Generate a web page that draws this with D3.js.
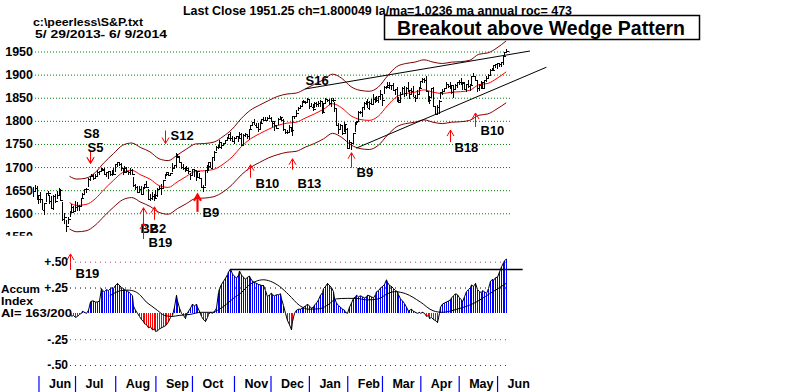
<!DOCTYPE html>
<html><head><meta charset="utf-8">
<script src="https://cdn.jsdelivr.net/npm/d3@7"></script>
<style>
body{margin:0;background:#fff;}
svg{display:block;}
text{font-family:"Liberation Sans",Arial,sans-serif;}
</style>
</head><body>
<svg id="c" width="800" height="392"></svg>
<script>
// ---------- DATA ----------
// daily S&P bars, 5/29/2013 .. 6/9/2014 (260 trading days)
const high=[1656,1661,1658,1640,1646,1630,1623,1644,1648,1640,1637,1640,1641,1649,1654,1652,1624,1601,1586,1593,1606,1620,1615,
1626,1624,1618,1632,1644,1653,1655,1676,1680,1685,1684,1684,1693,1692,1697,1698,1699,1690,1692,1690,1693,1698,
1707,1710,1710,1708,1697,1702,1701,1691,1697,1695,1679,1663,1660,1659,1659,1656,1664,1670,1652,1641,1646,1641,
1651,1655,1659,1664,1673,1684,1690,1689,1688,1709,1705,1730,1729,1725,1711,1707,1701,1703,1697,1687,
1696,1694,1693,1691,1687,1677,1662,1693,1704,1711,1711,1721,1734,1745,1747,1759,1752,1753,1759,1764,1772,1775,1768,
1765,1768,1767,1775,1774,1771,1773,1771,1782,1791,1798,1803,1795,1795,1797,1804,1808,1808,1808,1813,
1808,1800,1800,1792,1806,1811,1808,1803,1782,1781,1792,1786,1811,1810,1823,1829,1834,1842,1844,1843,1849,
1846,1838,1837,1840,1840,1843,1844,1843,1839,1850,1847,1847,1849,1849,1841,1827,1795,1794,1789,1798,1793,
1784,1758,1755,1774,1798,1800,1821,1822,1830,1841,1843,1847,1842,1847,1858,1852,1853,1854,1867,
1857,1876,1876,1883,1883,1878,1882,1868,1874,1852,1862,1873,1875,1874,1884,1866,1871,1875,1855,1866,1874,
1886,1893,1893,1897,1864,1853,1872,1873,1831,1834,1844,1862,1869,1872,1884,1879,1884,1876,1877,1880,1884,
1888,1892,1885,1884,1880,1889,1879,1897,1903,1898,1889,1879,1886,1885,1888,1896,1901,1912,1914,1920,1924,
1925,1925,1928,1941,1950,1955];
const low=[1636,1648,1630,1622,1623,1608,1598,1625,1639,1622,1610,1608,1624,1631,1639,1628,1584,1577,1560,1578,1592,1604,1601,
1607,1606,1605,1615,1634,1643,1646,1659,1672,1679,1674,1676,1681,1684,1690,1692,1684,1680,1676,1682,1682,1685,
1690,1701,1703,1693,1684,1690,1688,1684,1683,1684,1658,1652,1646,1646,1641,1643,1654,1656,1630,1628,1630,1627,
1633,1637,1653,1641,1656,1675,1681,1681,1682,1691,1697,1700,1720,1709,1697,1694,1691,1693,1687,1674,
1682,1680,1670,1677,1675,1655,1647,1660,1689,1692,1698,1700,1714,1735,1740,1744,1740,1746,1752,1757,1762,1758,1755,
1752,1761,1756,1765,1746,1747,1767,1762,1760,1781,1790,1791,1785,1777,1783,1794,1800,1800,1802,1805,
1798,1788,1779,1783,1793,1805,1801,1780,1773,1773,1777,1778,1768,1804,1810,1822,1828,1834,1839,1838,1842,
1827,1830,1823,1828,1831,1830,1831,1815,1820,1839,1842,1835,1832,1841,1820,1790,1772,1782,1771,1778,1772,
1740,1743,1737,1753,1776,1792,1800,1815,1809,1825,1835,1828,1824,1835,1836,1840,1841,1840,1847,
1834,1859,1871,1874,1871,1868,1866,1858,1841,1839,1842,1858,1853,1855,1864,1849,1858,1852,1842,1850,1858,
1873,1884,1883,1863,1841,1837,1852,1832,1814,1815,1816,1848,1856,1864,1872,1873,1870,1860,1850,1870,1873,
1879,1879,1867,1867,1864,1872,1866,1879,1895,1888,1863,1866,1869,1869,1873,1886,1893,1901,1908,1910,1915,
1914,1918,1918,1922,1942,1947];
const close=[1648,1654,1631,1640,1631,1608,1623,1643,1643,1626,1612,1637,1626,1639,1651,1628,1588,1592,1573,1588,1603,1613,1606,
1614,1615,1615,1632,1641,1652,1653,1675,1680,1683,1677,1681,1689,1692,1696,1693,1686,1690,1692,1686,1686,1686,
1706,1710,1707,1698,1690,1698,1691,1689,1694,1685,1661,1656,1646,1653,1642,1656,1664,1656,1630,1634,1638,1633,
1640,1653,1655,1655,1671,1684,1690,1683,1688,1698,1705,1725,1722,1710,1701,1698,1693,1699,1692,1682,
1695,1694,1678,1691,1677,1656,1656,1693,1703,1710,1698,1721,1733,1744,1744,1754,1747,1753,1759,1762,1772,1763,1757,
1762,1767,1763,1771,1748,1770,1771,1768,1782,1790,1798,1792,1787,1782,1795,1804,1802,1802,1807,1806,
1800,1795,1792,1785,1805,1808,1802,1782,1775,1775,1786,1781,1811,1810,1818,1827,1833,1842,1841,1841,1848,
1832,1831,1826,1838,1837,1838,1842,1819,1838,1848,1846,1838,1844,1845,1828,1790,1782,1792,1774,1794,1783,
1742,1755,1752,1773,1797,1800,1819,1819,1829,1838,1840,1828,1839,1836,1847,1845,1845,1854,1859,
1846,1873,1873,1877,1878,1877,1867,1868,1846,1841,1858,1872,1860,1872,1866,1858,1865,1852,1849,1857,1872,
1886,1890,1889,1865,1845,1852,1872,1833,1815,1830,1843,1862,1864,1872,1879,1875,1878,1863,1869,1878,1884,
1883,1881,1885,1868,1879,1875,1878,1896,1897,1888,1870,1878,1885,1872,1888,1893,1900,1911,1910,1920,1924,
1925,1924,1927,1940,1949,1951];

// months: label and index of first trading day
const monthLabels=["Jun","Jul","Aug","Sep","Oct","Nov","Dec","Jan","Feb","Mar","Apr","May","Jun"];
const monthStart=[3,23,45,67,87,110,130,151,172,191,212,233,254];

const priceTicks=[1950,1900,1850,1800,1750,1700,1650,1600,1550];

// 21-day moving average and its bands, read at every 5th day
const bandIdx=[20,24,29,34,39,44,49,54,59,64,69,74,79,84,89,94,99,104,109,114,119,124,129,134,139,144,149,154,159,164,169,174,179,184,189,194,199,204,209,214,219,224,229,234,239,244,249,254,259];
const maVals=[1623,1617,1619,1631,1652,1671,1688,1693,1683,1674,1660,1656,1668,1680,1691,1692,1695,1706,1722,1744,1761,1772,1782,1790,1795,1797,1806,1815,1825,1837,1828,1811,1803,1801,1810,1833,1852,1859,1862,1867,1862,1859,1862,1863,1866,1878,1881,1892,1906];
const upperVals=[1680,1674,1676,1688,1710,1729,1747,1752,1742,1733,1718,1714,1726,1739,1750,1751,1754,1766,1782,1805,1823,1834,1844,1853,1858,1860,1869,1879,1889,1901,1892,1874,1866,1864,1873,1897,1917,1924,1927,1932,1927,1924,1927,1928,1931,1944,1947,1958,1973];
const lowerVals=[1566,1560,1562,1574,1594,1613,1629,1634,1624,1615,1602,1598,1610,1621,1632,1633,1636,1646,1662,1683,1699,1710,1720,1727,1732,1734,1743,1751,1761,1773,1764,1748,1740,1738,1747,1769,1787,1794,1797,1802,1797,1794,1797,1798,1801,1812,1815,1826,1839];

// wedge trend lines [day index, price]
const wedgeUpperIdx=[149,272], wedgeUpperPrice=[1869,1951];
const wedgeLowerIdx=[177,281], wedgeLowerPrice=[1741,1916];

// Accumulation Index, daily from day 21
const aiStart=21;
const aiVals=[-0.03,-0.02,-0.04,-0.03,-0.01,0.00,0.02,0.01,0.00,0.03,
0.11,0.12,0.12,0.11,0.11,0.12,0.24,0.22,0.21,0.23,
0.22,0.24,0.25,0.24,0.27,0.29,0.27,0.25,0.24,0.23,
0.22,0.21,0.19,0.17,0.07,0.03,0.00,-0.03,-0.06,-0.08,
-0.10,-0.11,-0.14,-0.13,-0.16,-0.15,-0.175,-0.17,-0.15,-0.14,
-0.13,-0.12,-0.11,-0.08,-0.04,-0.02,0.06,0.175,0.12,0.05,
0.00,-0.02,-0.05,-0.01,0.02,0.05,0.09,0.07,0.09,0.06,
0.02,-0.03,-0.06,-0.08,-0.04,-0.01,0.01,0.00,0.02,0.05,
0.20,0.24,0.28,0.31,0.34,0.375,0.40,0.43,0.38,0.36,
0.34,0.37,0.41,0.37,0.35,0.33,0.35,0.36,0.34,0.31,
0.30,0.29,0.28,0.275,0.27,0.27,0.22,0.16,0.18,0.195,
0.18,0.17,0.18,0.18,0.19,0.14,0.075,0.00,-0.07,-0.11,
-0.16,-0.08,0.00,0.03,0.04,0.04,0.05,0.06,0.07,0.09,
0.07,0.05,0.06,0.08,0.10,0.13,0.175,0.20,0.24,0.26,
0.29,0.27,0.25,0.21,0.145,0.10,0.075,0.06,0.04,0.03,
0.01,0.00,0.06,0.10,0.145,0.16,0.175,0.16,0.17,0.16,
0.15,0.16,0.175,0.17,0.16,0.15,0.18,0.21,0.22,0.245,
0.26,0.28,0.325,0.30,0.27,0.26,0.24,0.22,0.21,0.18,
0.14,0.12,0.095,0.06,0.02,0.03,0.04,0.02,0.01,0.00,
0.01,0.00,0.01,0.00,-0.03,-0.02,-0.05,-0.04,-0.06,-0.07,
-0.09,0.00,0.06,0.09,0.10,0.11,0.12,0.13,0.15,0.17,
0.19,0.18,0.15,0.13,0.11,0.16,0.21,0.23,0.25,0.275,
0.26,0.29,0.23,0.21,0.20,0.22,0.21,0.19,0.24,0.31,
0.33,0.32,0.345,0.35,0.40,0.45,0.49,0.51,0.525];
// smoothed AI line
const aiMaIdx=[42,45,48,52,56,59,62,65,68,72,76,80,86,92,98,102,106,110,114,118,122,126,130,135,140,146,151,157,162,166,172,177,183,189,194,198,204,212,219,224,232,241,250,259];
const aiMaVals=[0.17,0.20,0.22,0.225,0.21,0.17,0.11,0.07,0.03,-0.02,-0.03,-0.02,-0.01,0.01,0.01,0.04,0.09,0.15,0.20,0.27,0.31,0.325,0.31,0.26,0.18,0.075,0.04,0.045,0.09,0.14,0.145,0.145,0.13,0.14,0.19,0.21,0.19,0.11,0.025,0.01,0.04,0.095,0.19,0.29];
// prior AI high line
const aiHighIdx=[108,268], aiHighVal=0.425;
const aiTicks=[0.5,0.25,-0.25,-0.5];
const aiTickLabels=["+.50","+.25","-.25","-.50"];

// Peerless signals: name, day index, arrow-tip price
const sigNames=["S8","S5","S12","B2","B2","B19","B9","B10","B13","S16","B9","B18","B10","B19"];
const sigIdx=[31,31,72,60,66,60,90,119,142,149,174,228,242,20];
const sigPrice=[1708,1708,1751,1612,1614,1579,1640,1705,1718,1871,1731,1780,1817,1512];

// ---------- DRAW ----------
const svg=d3.select("#c");
const x=d3.scaleLinear().domain([0,259]).range([33,506.2]);
const y=d3.scaleLinear().domain([1550,1950]).range([236.4,51.5]);
const ya=d3.scaleLinear().domain([-0.5,0.5]).range([365,261.7]);
const px=i=>Math.round(x(i))+0.5;
const FONT='"Liberation Sans",Arial,sans-serif';

const defs=svg.append("defs");
defs.append("clipPath").attr("id","pclip").attr("clipPathUnits","userSpaceOnUse")
  .append("rect").attr("x",-200).attr("y",0).attr("width",1200).attr("height",235.8);

// header texts
svg.append("text").attr("x",183).attr("y",15).attr("font-size",12.5).attr("font-weight","bold")
  .attr("textLength",389).attr("lengthAdjust","spacingAndGlyphs")
  .text("Last Close 1951.25 ch=1.800049  la/ma=1.0236 ma annual roc= 473");
svg.append("text").attr("x",33).attr("y",26).attr("font-size",11.5).attr("font-weight","bold")
  .attr("textLength",110).attr("lengthAdjust","spacingAndGlyphs").text("c:\\peerless\\S&P.txt");
svg.append("text").attr("x",35).attr("y",38).attr("font-size",11.5).attr("font-weight","bold")
  .attr("textLength",132).attr("lengthAdjust","spacingAndGlyphs").attr("xml:space","preserve").text("5/ 29/2013- 6/ 9/2014");
svg.append("rect").attr("x",384.5).attr("y",15.5).attr("width",315).attr("height",24)
  .attr("fill","#fff").attr("stroke","#000").attr("stroke-width",1.5);
svg.append("text").attr("x",397).attr("y",35).attr("font-size",19.5).attr("font-weight","bold")
  .attr("textLength",288).attr("lengthAdjust","spacingAndGlyphs").text("Breakout above Wedge Pattern");

// price grid + labels via axis
const pAxisHolder=svg.append("g").attr("clip-path","url(#pclip)");
const pAxis=pAxisHolder.append("g").attr("transform","translate(35,0)")
  .call(d3.axisLeft(y).tickValues(priceTicks).tickSize(-475).tickPadding(2).tickFormat(d3.format("d")));
pAxis.select(".domain").remove();
pAxis.selectAll(".tick line").attr("stroke","#008000").attr("stroke-dasharray","1,2");
pAxis.selectAll(".tick text").attr("font-size",12.5).attr("font-weight","bold").attr("font-family",FONT).attr("fill","#000");

// bands & MA
const bandLine=vals=>d3.line().x((d,k)=>x(bandIdx[k])).y(d=>y(d)).curve(d3.curveMonotoneX)(vals);
svg.append("path").attr("d",bandLine(upperVals)).attr("fill","none").attr("stroke","#800000").attr("stroke-width",1);
svg.append("path").attr("d",bandLine(lowerVals)).attr("fill","none").attr("stroke","#800000").attr("stroke-width",1);
svg.append("path").attr("d",bandLine(maVals)).attr("fill","none").attr("stroke","#ff0000").attr("stroke-width",1);

// wedge lines
const seg=(xi,pv)=>d3.line().x((d,k)=>x(xi[k])).y(d=>y(d))(pv);
svg.append("path").attr("d",seg(wedgeUpperIdx,wedgeUpperPrice)).attr("stroke","#000").attr("fill","none");
svg.append("path").attr("d",seg(wedgeLowerIdx,wedgeLowerPrice)).attr("stroke","#000").attr("fill","none");

// price bars
const bars=svg.append("g").attr("clip-path","url(#pclip)").attr("shape-rendering","crispEdges").attr("stroke","#000");
bars.selectAll("line.hl").data(d3.range(close.length)).join("line").attr("class","hl")
  .attr("x1",px).attr("x2",px).attr("y1",i=>y(high[i])).attr("y2",i=>y(low[i])+0.5);
bars.selectAll("line.cl").data(d3.range(close.length)).join("line").attr("class","cl")
  .attr("x1",px).attr("x2",i=>px(i)+2).attr("y1",i=>Math.round(y(close[i]))+0.5).attr("y2",i=>Math.round(y(close[i]))+0.5);

// signals (annotation placement: arrow length, label dx, label dy, stroke)
const sigLayout=[[12,-7,-25],[12,-3,-11],[13,5,-3],[22,-3,25],[13,-5,26],[16,5,24],[17,5,22,2.2],[13,5,23],[11,5,29],[0,0,-3],[15,5,24],[12,4,22],[14,5,22],[16,5,24]];
const sg=svg.append("g");
sigNames.forEach((nm,k)=>{
  const [len,dx,dy,w]=sigLayout[k];
  const sx=px(sigIdx[k]), ty=y(sigPrice[k]);
  const buy=nm[0]==="B";
  const dir=buy?1:-1;
  if(len>0){
    const g=sg.append("g").attr("stroke","#ff0000").attr("stroke-width",w||1).attr("fill","none");
    g.append("line").attr("x1",sx).attr("x2",sx).attr("y1",ty).attr("y2",ty+dir*len);
    g.append("polyline").attr("points",`${sx-3.5},${ty+dir*6} ${sx},${ty} ${sx+3.5},${ty+dir*6}`);
  }
  sg.append("text").attr("x",sx+dx).attr("y",ty+dy).attr("font-size",13).attr("font-weight","bold")
    .attr("font-family",FONT).attr("fill","#000").text(nm);
});

// AI panel grid + labels via axis
const aAxis=svg.append("g").attr("transform","translate(70,0)")
  .call(d3.axisLeft(ya).tickValues(aiTicks).tickSize(-440).tickPadding(2).tickFormat((d,k)=>aiTickLabels[k]));
aAxis.select(".domain").remove();
const gridCol=["#b0407a","#000","#c04060","#404040"];
aAxis.selectAll(".tick line").attr("stroke",(d,k)=>gridCol[k]).attr("stroke-dasharray","1,4");
aAxis.selectAll(".tick text").attr("font-size",12).attr("font-weight","bold").attr("font-family",FONT).attr("fill","#000");

svg.append("text").attr("x",1).attr("y",293).attr("font-size",11).attr("font-weight","bold")
  .attr("textLength",39).attr("lengthAdjust","spacingAndGlyphs").text("Accum");
svg.append("text").attr("x",1).attr("y",305).attr("font-size",11).attr("font-weight","bold")
  .attr("textLength",32).attr("lengthAdjust","spacingAndGlyphs").text("Index");
svg.append("text").attr("x",1).attr("y",317).attr("font-size",11).attr("font-weight","bold")
  .attr("textLength",71).attr("lengthAdjust","spacingAndGlyphs").text("AI= 163/200");

// AI bars
const aiData=aiVals.map((v,k)=>({i:aiStart+k,v}));
svg.append("g").attr("shape-rendering","crispEdges").selectAll("line").data(aiData).join("line")
  .attr("x1",d=>px(d.i)).attr("x2",d=>px(d.i))
  .attr("y1",ya(0)).attr("y2",d=>ya(d.v))
  .attr("stroke",d=>d.v>=0?"#0000ff":"#ff0000");
svg.append("path").attr("d",d3.line().x(d=>px(d.i)).y(d=>ya(d.v))(aiData)).attr("fill","none").attr("stroke","#000");
svg.append("path").attr("d",d3.line().x((d,k)=>x(aiMaIdx[k])).y(d=>ya(d)).curve(d3.curveMonotoneX)(aiMaVals))
  .attr("fill","none").attr("stroke","#000");
svg.append("line").attr("x1",x(aiHighIdx[0])).attr("x2",x(aiHighIdx[1])).attr("y1",Math.round(ya(aiHighVal))+0.5).attr("y2",Math.round(ya(aiHighVal))+0.5)
  .attr("stroke","#000").attr("stroke-width",1.3);

// month axis
const mAxis=svg.append("g").attr("transform","translate(0,376)")
  .call(d3.axisBottom(x).tickValues(monthStart).tickSize(16).tickFormat((d,k)=>monthLabels[k]));
mAxis.select(".domain").remove();
mAxis.selectAll(".tick line").attr("stroke","#0000ff").attr("stroke-width",1.2);
mAxis.selectAll(".tick text").attr("x",10).attr("y",12).attr("dy",0).attr("text-anchor","start")
  .attr("font-size",12.5).attr("font-weight","bold").attr("font-family",FONT).attr("fill","#000");
</script>
</body></html>
